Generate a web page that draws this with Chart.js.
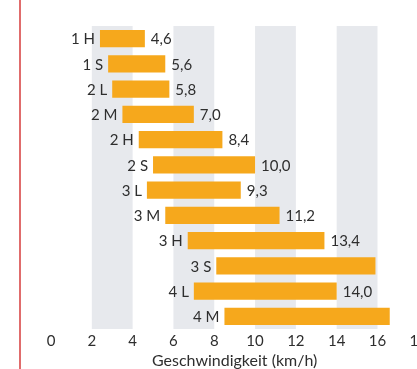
<!DOCTYPE html>
<html>
<head>
<meta charset="utf-8">
<script src="https://cdn.jsdelivr.net/npm/chart.js@4/dist/chart.umd.min.js"></script>
<style>
    html, body { margin: 0; padding: 0; background: #fff; overflow: hidden; }
    #wrap { position: relative; width: 430px; height: 369px; }
    #edge { position: absolute; left: 19px; top: 0; width: 2px; height: 369px; background: #e06c6c; }
</style>
</head>
<body>
<div id="wrap">
    <canvas id="speed-chart" width="430" height="369"></canvas>
    <div id="edge"></div>
</div>
<script>
// Categories (top to bottom) and the speed range of each bar
const CATEGORIES = ['1 H', '1 S', '2 L', '2 M', '2 H', '2 S', '3 L', '3 M', '3 H', '3 S', '4 L', '4 M'];
const RANGE_START = [2.4, 2.8, 3.0, 3.5, 4.3, 5.0, 4.7, 5.6, 6.7, 8.1, 7.0, 8.5];
const RANGE_END = [4.6, 5.6, 5.8, 7.0, 8.4, 10.0, 9.3, 11.2, 13.4, 15.9, 14.0, 16.6];
// value printed right of the bar (empty where the print shows none)
const VALUE_LABELS = ['4,6', '5,6', '5,8', '7,0', '8,4', '10,0', '9,3', '11,2', '13,4', '', '14,0', ''];

// shaded columns behind the bars
const BANDS = [[2, 4], [6, 8], [10, 12], [14, 16]];

const AXIS_MIN = 0;
const AXIS_MAX = 18;
const AXIS_STEP = 2;
const AXIS_TITLE = 'Geschwindigkeit (km/h)';

const FONT = 'Lato, "Open Sans", sans-serif';
const BAR_COLOR = '#f6a81c';
const TEXT_COLOR = '#2e2e2e';

/**
 * Draws the alternating grey columns before the bars
 */
const bandPlugin = {
    id: 'bands',
    beforeDatasetsDraw(chart) {
        const { ctx, chartArea, scales } = chart;
        ctx.save();
        ctx.fillStyle = '#e7e9ed';
        BANDS.forEach(([from, to]) => {
            const x1 = scales.x.getPixelForValue(from);
            const x2 = scales.x.getPixelForValue(to);
            ctx.fillRect(x1, chartArea.top, x2 - x1, chartArea.bottom - chartArea.top);
        });
        ctx.restore();
    }
};

/**
 * Category name left of each bar, value right of it
 */
const barLabelPlugin = {
    id: 'barLabels',
    afterDatasetsDraw(chart) {
        const { ctx } = chart;
        const bars = chart.getDatasetMeta(0).data;
        ctx.save();
        ctx.font = '15px ' + FONT;
        ctx.fillStyle = TEXT_COLOR;
        ctx.textBaseline = 'middle';
        bars.forEach((bar, i) => {
            const left = Math.min(bar.x, bar.base);
            const right = Math.max(bar.x, bar.base);
            ctx.textAlign = 'right';
            ctx.fillText(CATEGORIES[i], left - 5, bar.y + 1);
            if (VALUE_LABELS[i]) {
                ctx.textAlign = 'left';
                ctx.fillText(VALUE_LABELS[i], right + 6, bar.y + 1);
            }
        });
        ctx.restore();
    }
};

const ctx = document.getElementById('speed-chart').getContext('2d');

new Chart(ctx, {
    type: 'bar',
    data: {
        labels: CATEGORIES,
        datasets: [{
            data: CATEGORIES.map((_, i) => [RANGE_START[i], RANGE_END[i]]),
            backgroundColor: BAR_COLOR,
            borderWidth: 0,
            categoryPercentage: 1,
            barPercentage: 0.68
        }]
    },
    options: {
        indexAxis: 'y',
        responsive: false,
        animation: false,
        layout: {
            padding: { left: 51, right: 0, top: 26, bottom: 0 }
        },
        plugins: {
            legend: { display: false },
            tooltip: { enabled: false }
        },
        scales: {
            x: {
                min: AXIS_MIN,
                max: AXIS_MAX,
                grid: { display: false, drawTicks: false },
                border: { display: false },
                ticks: {
                    stepSize: AXIS_STEP,
                    color: TEXT_COLOR,
                    font: { family: FONT, size: 15 },
                    padding: 3,
                    maxRotation: 0
                },
                title: {
                    display: true,
                    text: AXIS_TITLE,
                    color: TEXT_COLOR,
                    font: { family: FONT, size: 16, lineHeight: 1 },
                    padding: { top: 0, bottom: 0 }
                }
            },
            y: {
                display: false
            }
        }
    },
    plugins: [bandPlugin, barLabelPlugin]
});
</script>
</body>
</html>
